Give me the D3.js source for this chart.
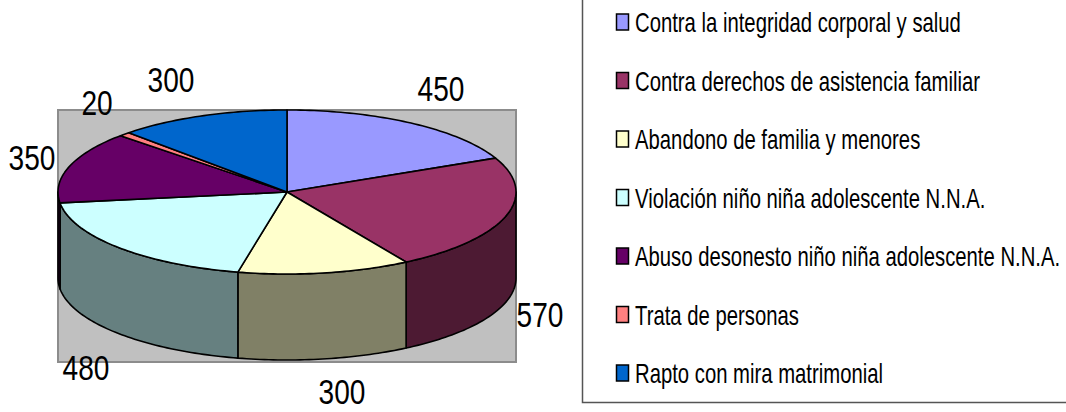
<!DOCTYPE html>
<html>
<head>
<meta charset="utf-8">
<script src="https://cdnjs.cloudflare.com/ajax/libs/d3/7.8.5/d3.min.js"></script>
<style>html,body{margin:0;padding:0;background:#fff}svg{display:block}text{font-family:"Liberation Sans",Arial,sans-serif;fill:#000}</style>
</head>
<body>
<svg id="c" width="1066" height="412"></svg>
<script>
const categories = ["Contra la integridad corporal y salud","Contra derechos de asistencia familiar","Abandono de familia y menores","Violación niño niña adolescente N.N.A.","Abuso desonesto niño niña adolescente N.N.A.","Trata de personas","Rapto con mira matrimonial"];
const values = [450,570,300,480,350,20,300];
const topColors = ["#9999FF","#993366","#FFFFCC","#CCFFFF","#660066","#FF8080","#0066CC"];
const sideColors = ["#4D4D80","#4D1A33","#808066","#668080","#330033","#804040","#003366"];
const labelX = [441,540,342,86,32,97,171];
const labelBase = [101,327,404,380,170,115,92];

const cx=287, cy=192, rx=229, ry=82, depth=86;
const svg=d3.select("#c");
const px=t=>cx+rx*Math.sin(t), py=t=>cy-ry*Math.cos(t);

svg.append("rect").attr("x",58).attr("y",110).attr("width",458).attr("height",252)
  .attr("fill","#C0C0C0").attr("stroke","#8C8C8C").attr("stroke-width",2);

const arcs=d3.pie().sort(null).value(d=>d)(values);
function samples(a,b){const n=Math.max(2,Math.ceil((b-a)/0.02));return d3.range(n+1).map(i=>a+(b-a)*i/n);}
const line=d3.line();

// outer wall: front half of the rim only
const HALF=Math.PI/2, BACK=3*Math.PI/2;
arcs.forEach((d,i)=>{
  const a=Math.max(d.startAngle,HALF), b=Math.min(d.endAngle,BACK);
  if(b<=a) return;
  const ts=samples(a,b);
  const pts=ts.map(t=>[px(t),py(t)]).concat(ts.slice().reverse().map(t=>[px(t),py(t)+depth]));
  svg.append("path").attr("d",line(pts)+"Z").attr("fill",sideColors[i])
    .attr("stroke","#000").attr("stroke-width",1.6).attr("stroke-linejoin","round");
});
// top face
arcs.forEach((d,i)=>{
  const ts=samples(d.startAngle,d.endAngle);
  const pts=[[cx,cy]].concat(ts.map(t=>[px(t),py(t)]));
  svg.append("path").attr("d",line(pts)+"Z").attr("fill",topColors[i])
    .attr("stroke","#000").attr("stroke-width",1.6).attr("stroke-linejoin","round");
});
// value labels
const labelScale=0.78, labelSize=36;
values.forEach((v,i)=>{
  svg.append("text").attr("text-anchor","middle").attr("font-size",labelSize)
    .attr("transform",`translate(${labelX[i]},${labelBase[i]}) scale(${labelScale},1)`).text(v);
});
// legend frame
svg.append("path").attr("d","M582.5,0V402.5H1066").attr("fill","none").attr("stroke","#555").attr("stroke-width",1.5);
const rowY=d3.scaleLinear().domain([0,6]).range([22,373]);
categories.forEach((c,i)=>{
  const y=rowY(i);
  svg.append("rect").attr("x",616.5).attr("y",y-8).attr("width",12).attr("height",16)
    .attr("fill",topColors[i]).attr("stroke","#000").attr("stroke-width",1.5);
  svg.append("text").attr("font-size",28)
    .attr("transform",`translate(635,${y+10}) scale(0.725,1)`).text(c);
});
</script>
</body>
</html>
